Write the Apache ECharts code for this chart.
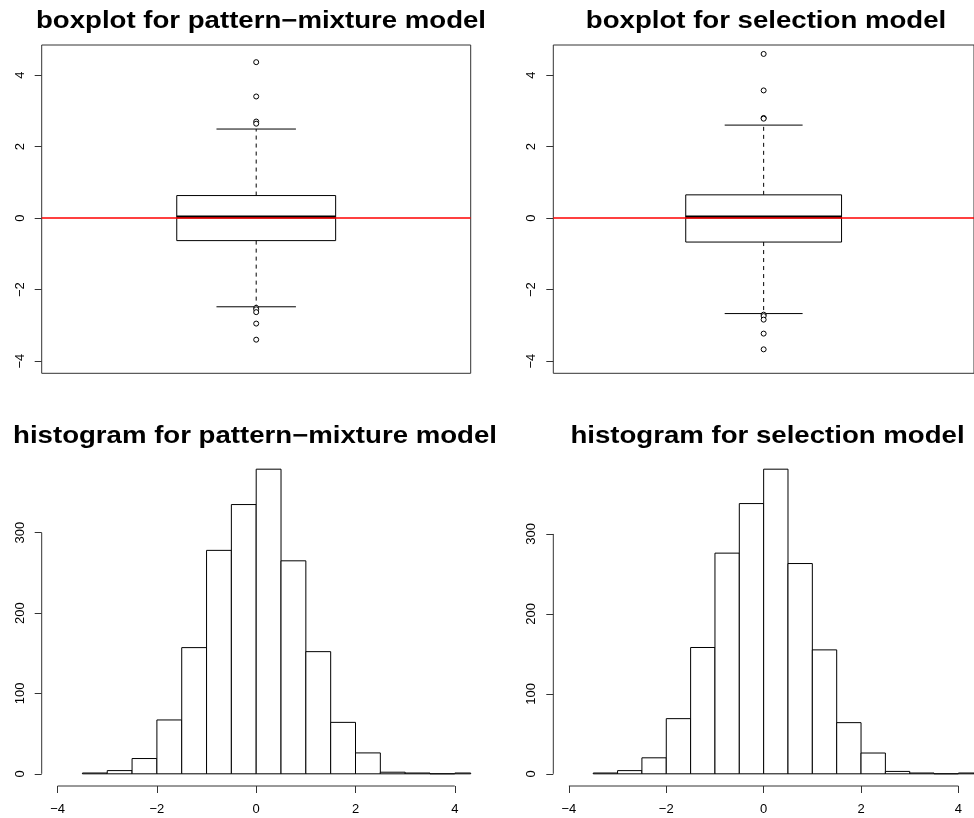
<!DOCTYPE html>
<html>
<head>
<meta charset="utf-8">
<script src="https://cdn.jsdelivr.net/npm/echarts@6/dist/echarts.min.js"></script>
<style>
  html, body { margin: 0; padding: 0; background: #fff; }
  #chart { width: 974px; height: 818px; }
</style>
</head>
<body>
<div id="chart"></div>
<script>
// Box summaries: [lower whisker, Q1, median, Q3, upper whisker]
const pmBox = [-2.48, -0.63, 0.03, 0.63, 2.49];
const selBox = [-2.67, -0.67, 0.03, 0.65, 2.60];
// Points beyond the whiskers
const pmOutliers = [4.36, 3.40, 2.70, 2.64, -2.51, -2.55, -2.63, -2.95, -3.40];
const selOutliers = [4.59, 3.57, 2.80, 2.78, -2.70, -2.74, -2.84, -3.23, -3.67];

// Histogram bins (width 0.5) and their counts
const histBreaks = [-3.5, -3, -2.5, -2, -1.5, -1, -0.5, 0, 0.5, 1, 1.5, 2, 2.5, 3, 3.5, 4, 4.5];
const pmCounts  = [1, 4, 19, 67, 157, 278, 335, 379, 265, 152, 64, 26, 2, 1, 0, 1];
const selCounts = [1, 4, 20, 69, 158, 276, 338, 381, 263, 155, 64, 26, 3, 1, 0, 1];

// Axis ticks
const boxYTicks = [-4, -2, 0, 2, 4];
const histYTicks = [0, 100, 200, 300];
const histXTicks = [-4, -2, 0, 2, 4];

// Reference line drawn across the boxplots
const refLevel = 0;

const panelTitles = [
  'boxplot for pattern\u2212mixture model',
  'boxplot for selection model',
  'histogram for pattern\u2212mixture model',
  'histogram for selection model'
];

// R-style limits: requested range widened by 4%
function widen(lo, hi) { const d = (hi - lo) * 0.04; return [lo - d, hi + d]; }
const boxYLim = widen(-4, 4.5);
const boxXLim = widen(0.5, 1.5);
const histXLim = widen(-4, 4);
const pmYLim = widen(0, Math.max(...pmCounts));
const selYLim = widen(0, Math.max(...selCounts));

const boxPos = 1, boxHalf = 0.2, capHalf = 0.1;

const FONT = '"Liberation Sans", Arial, Helvetica, sans-serif';
const minus = v => String(v).replace('-', '\u2212');

const grids = [
  { left: 41.7, top: 45, width: 429, height: 328.3, show: true, borderColor: '#333', borderWidth: 1, backgroundColor: 'transparent' },
  { left: 553.3, top: 45, width: 429, height: 328.3, show: true, borderColor: '#333', borderWidth: 1, backgroundColor: 'transparent' },
  { left: 41.7, top: 457, width: 429, height: 329 },
  { left: 553.3, top: 457, width: 429, height: 329 }
];

function yAxisCfg(gi, lim, ticks) {
  return {
    type: 'value', gridIndex: gi, min: lim[0], max: lim[1],
    splitLine: { show: false },
    axisLine: { show: false, onZero: false },
    axisTick: { show: true, customValues: ticks, length: 7, lineStyle: { color: '#333', width: 1 } },
    axisLabel: { customValues: ticks, rotate: 90, margin: 15, fontSize: 13, fontFamily: FONT, color: '#000', formatter: minus }
  };
}
function xAxisCfg(gi, lim, ticks) {
  const base = {
    type: 'value', gridIndex: gi, min: lim[0], max: lim[1],
    splitLine: { show: false },
    axisLine: { show: false, onZero: false }
  };
  if (ticks) {
    base.axisTick = { show: true, customValues: ticks, length: 7, lineStyle: { color: '#333', width: 1 } };
    base.axisLabel = { customValues: ticks, margin: 17, fontSize: 13, fontFamily: FONT, color: '#000', formatter: minus };
  } else {
    base.axisTick = { show: false };
    base.axisLabel = { show: false };
  }
  return base;
}

function boxRender(params, api) {
  const x = api.value(0);
  const lw = api.value(1), q1 = api.value(2), med = api.value(3), q3 = api.value(4), uw = api.value(5);
  const tl = api.coord([x - boxHalf, q3]);
  const br = api.coord([x + boxHalf, q1]);
  const line = (a, b, extra) => ({
    type: 'line',
    shape: { x1: a[0], y1: a[1], x2: b[0], y2: b[1] },
    style: Object.assign({ stroke: '#000', lineWidth: 1 }, extra || {})
  });
  return {
    type: 'group',
    children: [
      line(api.coord([x, q3]), api.coord([x, uw]), { lineDash: [4, 4] }),
      line(api.coord([x, q1]), api.coord([x, lw]), { lineDash: [4, 4] }),
      line(api.coord([x - capHalf, uw]), api.coord([x + capHalf, uw])),
      line(api.coord([x - capHalf, lw]), api.coord([x + capHalf, lw])),
      {
        type: 'rect',
        shape: { x: tl[0], y: tl[1], width: br[0] - tl[0], height: br[1] - tl[1] },
        style: { fill: '#fff', stroke: '#000', lineWidth: 1 }
      },
      line(api.coord([x - boxHalf, med]), api.coord([x + boxHalf, med]), { lineWidth: 3 })
    ]
  };
}

function histRender(params, api) {
  const p0 = api.coord([api.value(0), api.value(2)]);
  const p1 = api.coord([api.value(1), 0]);
  const shape = echarts.graphic.clipRectByRect(
    { x: p0[0], y: p0[1], width: p1[0] - p0[0], height: p1[1] - p0[1] },
    { x: params.coordSys.x, y: params.coordSys.y, width: params.coordSys.width, height: params.coordSys.height }
  );
  if (!shape) return null;
  return { type: 'rect', shape: shape, style: { fill: '#fff', stroke: '#000', lineWidth: 1 } };
}

// Axis lines of a histogram: span only the labelled tick range
function histAxesRender(yLo) {
  return function (params, api) {
    const xl = histXLim[0];
    const a = api.coord([xl, histYTicks[0]]);
    const b = api.coord([xl, histYTicks[histYTicks.length - 1]]);
    const c = api.coord([histXTicks[0], yLo]);
    const d = api.coord([histXTicks[histXTicks.length - 1], yLo]);
    return {
      type: 'group',
      children: [
        { type: 'line', shape: { x1: a[0], y1: a[1], x2: b[0], y2: b[1] }, style: { stroke: '#333', lineWidth: 1 } },
        { type: 'line', shape: { x1: c[0], y1: c[1], x2: d[0], y2: d[1] }, style: { stroke: '#333', lineWidth: 1 } }
      ]
    };
  };
}

const bins = counts => counts.map((c, i) => [histBreaks[i], histBreaks[i + 1], c]);

function boxSeries(gi, box, outliers) {
  return [
    {
      type: 'custom', xAxisIndex: gi, yAxisIndex: gi, renderItem: boxRender,
      data: [[boxPos].concat(box)], z: 2, silent: true
    },
    {
      type: 'line', xAxisIndex: gi, yAxisIndex: gi, symbol: 'none', silent: true, z: 3,
      data: [[boxXLim[0], refLevel], [boxXLim[1], refLevel]],
      lineStyle: { color: '#ff0000', width: 1.5 }
    },
    {
      type: 'scatter', xAxisIndex: gi, yAxisIndex: gi, silent: true, z: 4,
      data: outliers.map(v => [boxPos, v]),
      symbol: 'circle', symbolSize: 5,
      itemStyle: { color: '#fff', borderColor: '#000', borderWidth: 1, opacity: 1 }
    }
  ];
}
function histSeries(gi, counts, yLim) {
  return [
    {
      type: 'custom', xAxisIndex: gi, yAxisIndex: gi, renderItem: histRender,
      data: bins(counts), z: 2, silent: true
    },
    {
      type: 'custom', xAxisIndex: gi, yAxisIndex: gi, renderItem: histAxesRender(yLim[0]),
      data: [[0, 0]], z: 3, silent: true
    }
  ];
}

const titlePos = [
  { cx: 261, y: 10 }, { cx: 766, y: 10 }, { cx: 255, y: 425 }, { cx: 767.5, y: 425 }
];

const chart = echarts.init(document.getElementById('chart'), null, { renderer: 'canvas' });
chart.setOption({
  animation: false,
  backgroundColor: '#fff',
  grid: grids,
  xAxis: [
    xAxisCfg(0, boxXLim, null),
    xAxisCfg(1, boxXLim, null),
    xAxisCfg(2, histXLim, histXTicks),
    xAxisCfg(3, histXLim, histXTicks)
  ],
  yAxis: [
    yAxisCfg(0, boxYLim, boxYTicks),
    yAxisCfg(1, boxYLim, boxYTicks),
    yAxisCfg(2, pmYLim, histYTicks),
    yAxisCfg(3, selYLim, histYTicks)
  ],
  graphic: panelTitles.map((t, i) => ({
    type: 'text',
    x: titlePos[i].cx, y: titlePos[i].y,
    scaleX: 1.2,
    silent: true,
    style: {
      text: t, fill: '#000',
      font: 'bold 23px ' + FONT,
      textAlign: 'center', textVerticalAlign: 'top',
      align: 'center', verticalAlign: 'top'
    }
  })),
  series: [].concat(
    boxSeries(0, pmBox, pmOutliers),
    boxSeries(1, selBox, selOutliers),
    histSeries(2, pmCounts, pmYLim),
    histSeries(3, selCounts, selYLim)
  )
});
</script>
</body>
</html>
